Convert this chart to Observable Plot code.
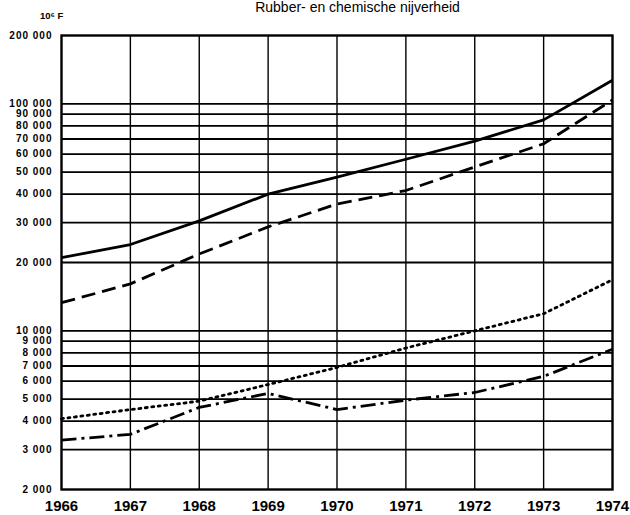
<!DOCTYPE html>
<html>
<head>
<meta charset="utf-8">
<script src="https://cdn.jsdelivr.net/npm/d3@7"></script>
<script src="https://cdn.jsdelivr.net/npm/@observablehq/plot@0.6"></script>
<style>
  html, body { margin: 0; padding: 0; background: #fff; overflow: hidden; }
  #wrap { position: relative; width: 630px; height: 515px; font-family: "Liberation Sans", Arial, sans-serif; }
  #title { position: absolute; left: 0; width: 715px; text-align: center; top: 0px; font-size: 14px; line-height: 14px; color: #000; }
  #unit { position: absolute; left: 40px; top: 10px; font-size: 9.5px; font-weight: bold; color: #000; }
  svg { position: absolute; left: 0; top: 0; }
</style>
</head>
<body>
<div id="wrap">
  <div id="title">Rubber- en chemische nijverheid</div>
  <div id="unit">10⁶ F</div>
</div>
<script>
const years = [1966, 1967, 1968, 1969, 1970, 1971, 1972, 1973, 1974];
const solidSeries   = [21000, 24000, 30500, 40000, 47500, 57000, 68500, 85000, 127000];
const dashedSeries  = [13300, 16100, 21800, 28700, 36200, 41500, 52700, 66700, 104000];
const dottedSeries  = [4100, 4500, 4900, 5800, 6900, 8400, 10000, 11900, 16800];
const dashDotSeries = [3300, 3500, 4600, 5300, 4500, 4950, 5350, 6300, 8300];
const yTicks = [2000, 3000, 4000, 5000, 6000, 7000, 8000, 9000, 10000, 20000, 30000, 40000, 50000, 60000, 70000, 80000, 90000, 100000, 200000];
const gridY = [3000, 4000, 5000, 6000, 7000, 8000, 9000, 10000, 20000, 30000, 40000, 50000, 60000, 70000, 80000, 90000, 100000];

const styles = [
  {values: solidSeries, dash: null},
  {values: dashedSeries, dash: "14,7"},
  {values: dottedSeries, dash: "2,4.5"},
  {values: dashDotSeries, dash: "15,5,3,5"}
];

const fmt = d => d3.format(",")(d).replace(/,/g, " ");

const chart = Plot.plot({
  width: 630,
  height: 515,
  marginLeft: 61,
  marginRight: 18,
  marginTop: 35,
  marginBottom: 26,
  style: {fontFamily: "'Liberation Sans', Arial, sans-serif", background: "transparent", color: "#000"},
  x: {domain: [1966, 1974], axis: null},
  y: {type: "log", domain: [2000, 200000], axis: null},
  marks: [
    Plot.ruleY(gridY, {stroke: "#000", strokeWidth: 1.8}),
    Plot.ruleX(years.slice(1, -1), {stroke: "#000", strokeWidth: 1.4}),
    Plot.frame({stroke: "#000", strokeWidth: 2.4}),
    ...styles.map(s => Plot.lineY(s.values, {
      x: (d, i) => years[i],
      y: d => d,
      stroke: "#000",
      strokeWidth: 2.8,
      strokeDasharray: s.dash,
      strokeLinecap: s.dash === "2,4.5" ? "round" : "butt"
    })),
    Plot.text(years, {x: d => d, frameAnchor: "bottom", dy: 17, text: d => String(d), fontSize: 15, fontWeight: "bold", lineAnchor: "middle"}),
    Plot.text(yTicks, {y: d => d, frameAnchor: "left", dx: -9, textAnchor: "end", text: fmt, fontSize: 10, fontWeight: "bold"})
  ]
});
const textGroups = chart.querySelectorAll('g[aria-label="text"]');
if (textGroups.length > 1) textGroups[textGroups.length - 1].style.letterSpacing = "1px";
document.getElementById("wrap").appendChild(chart);
</script>
</body>
</html>
